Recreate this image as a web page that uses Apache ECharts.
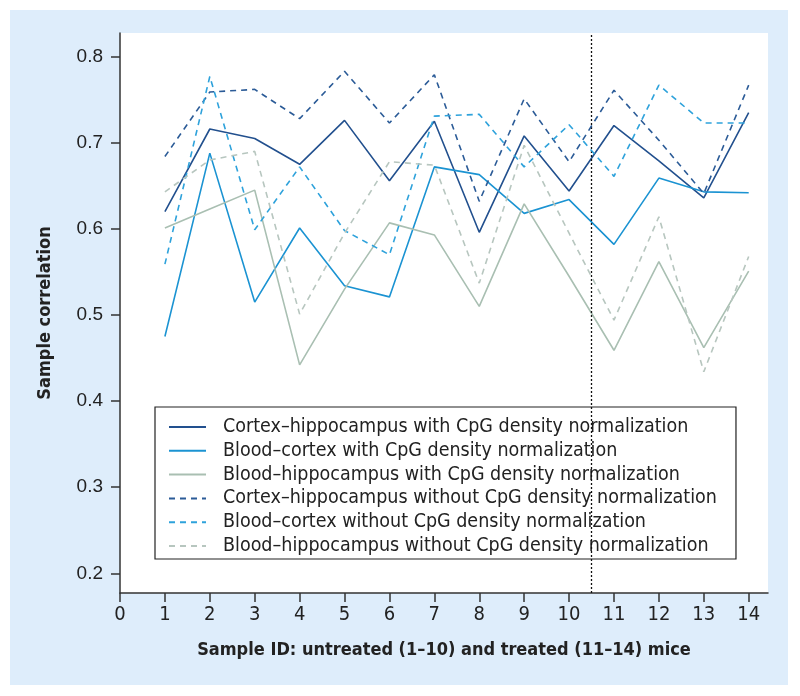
<!DOCTYPE html>
<html>
<head>
<meta charset="utf-8">
<script src="https://cdn.jsdelivr.net/npm/echarts@6/dist/echarts.min.js"></script>
<style>
  html, body { margin: 0; padding: 0; background: #ffffff; }
  #panel { position: absolute; left: 10px; top: 10px; width: 778px; height: 675px; background: #deedfb; }
  #chart { position: absolute; left: 0; top: 0; width: 800px; height: 696px; }
</style>
</head>
<body>
<div id="panel"></div>
<div id="chart"></div>
<script>
// ---- data ----
const sampleIds = [1, 2, 3, 4, 5, 6, 7, 8, 9, 10, 11, 12, 13, 14];
const xTicks = [0, 1, 2, 3, 4, 5, 6, 7, 8, 9, 10, 11, 12, 13, 14];
const yTicks = [0.2, 0.3, 0.4, 0.5, 0.6, 0.7, 0.8];
const seriesNames = [
  'Cortex\u2013hippocampus with CpG density normalization',
  'Blood\u2013cortex with CpG density normalization',
  'Blood\u2013hippocampus with CpG density normalization',
  'Cortex\u2013hippocampus without CpG density normalization',
  'Blood\u2013cortex without CpG density normalization',
  'Blood\u2013hippocampus without CpG density normalization'
];
const cortexHippoWith    = [0.620, 0.716, 0.705, 0.675, 0.726, 0.656, 0.725, 0.596, 0.708, 0.644, 0.720, 0.679, 0.636, 0.735];
const bloodCortexWith    = [0.475, 0.688, 0.515, 0.601, 0.534, 0.521, 0.672, 0.663, 0.618, 0.634, 0.582, 0.659, 0.643, 0.642];
const bloodHippoWith     = [0.601, 0.623, 0.645, 0.442, 0.530, 0.607, 0.593, 0.510, 0.629, 0.545, 0.459, 0.562, 0.462, 0.551];
const cortexHippoWithout = [0.684, 0.759, 0.762, 0.728, 0.783, 0.723, 0.779, 0.632, 0.751, 0.678, 0.761, 0.703, 0.641, 0.767];
const bloodCortexWithout = [0.559, 0.777, 0.599, 0.672, 0.598, 0.570, 0.731, 0.733, 0.672, 0.721, 0.661, 0.767, 0.723, 0.723];
const bloodHippoWithout  = [0.643, 0.680, 0.690, 0.501, 0.595, 0.678, 0.674, 0.537, 0.697, 0.595, 0.494, 0.614, 0.434, 0.568];
const treatmentSplit = 10.5;

// ---- styles ----
const narrow = "'Liberation Sans Narrow', 'DejaVu Sans Condensed', 'Liberation Sans', Arial, sans-serif";
const regular = "'Liberation Sans', Arial, sans-serif";
const allValues = [cortexHippoWith, bloodCortexWith, bloodHippoWith, cortexHippoWithout, bloodCortexWithout, bloodHippoWithout];
const colors = ['#22508e', '#1b93d2', '#a9bfb2', '#2b5b97', '#2ea2db', '#b7c6bf'];
const dashTypes = ['solid', 'solid', 'solid', [6, 5], [6, 5], [6, 5]];

const series = allValues.map((vals, i) => ({
  name: seriesNames[i],
  type: 'line',
  data: sampleIds.map((x, j) => [x, vals[j]]),
  symbol: 'none',
  silent: true,
  animation: false,
  z: 2 + i,
  lineStyle: { color: colors[i], width: 1.6, type: dashTypes[i] },
  itemStyle: { color: colors[i] }
}));
series[0].markLine = {
  silent: true,
  symbol: ['none', 'none'],
  label: { show: false },
  lineStyle: { color: '#111', type: [2, 2], width: 1.3 },
  data: [{ xAxis: treatmentSplit }],
  animation: false
};

const chart = echarts.init(document.getElementById('chart'), null, { renderer: 'canvas' });
chart.setOption({
  backgroundColor: 'transparent',
  animation: false,
  grid: { left: 120, top: 33, right: 32, bottom: 103, show: true, backgroundColor: '#ffffff', borderWidth: 0 },
  xAxis: {
    type: 'value', min: 0, max: 14.43,
    name: 'Sample ID: untreated (1\u201310) and treated (11\u201314) mice',
    nameLocation: 'middle', nameGap: 48,
    nameTextStyle: { fontFamily: narrow, fontWeight: 'bold', fontSize: 18, color: '#222' },
    axisLine: { show: true, onZero: false, lineStyle: { color: '#333', width: 1.5 } },
    axisTick: { show: true, length: 9, customValues: xTicks, lineStyle: { color: '#333', width: 1.5 } },
    axisLabel: { customValues: xTicks, margin: 12, fontFamily: narrow, fontSize: 20, color: '#222' },
    splitLine: { show: false }
  },
  yAxis: {
    type: 'value', min: 0.1771, max: 0.8275,
    name: 'Sample correlation',
    nameLocation: 'middle', nameGap: 66,
    nameTextStyle: { fontFamily: narrow, fontWeight: 'bold', fontSize: 18, color: '#222' },
    axisLine: { show: true, onZero: false, lineStyle: { color: '#333', width: 1.5 } },
    axisTick: { show: true, length: 9, customValues: yTicks, lineStyle: { color: '#333', width: 1.5 } },
    axisLabel: { customValues: yTicks, margin: 17, fontFamily: regular, fontSize: 19, color: '#222',
      formatter: v => v.toFixed(1) },
    splitLine: { show: false }
  },
  legend: {
    orient: 'vertical', left: 155, top: 407,
    padding: [10, 19, 3, 13],
    itemGap: 3.8, itemWidth: 37, itemHeight: 14,
    borderColor: '#222', borderWidth: 1.2, backgroundColor: '#ffffff',
    selectedMode: false,
    itemStyle: { opacity: 0 },
    textStyle: { fontFamily: narrow, fontSize: 19.5, color: '#222', padding: [0, 0, 0, 12] },
    data: seriesNames
  },
  series: series
});
</script>
</body>
</html>
